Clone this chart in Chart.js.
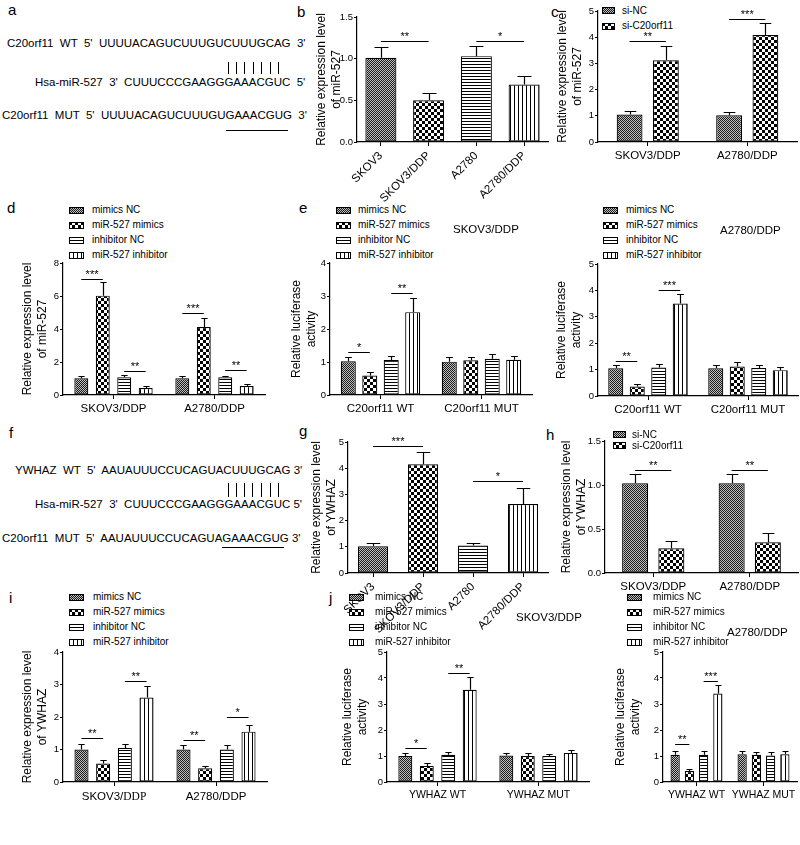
<!DOCTYPE html>
<html><head><meta charset="utf-8">
<script src="https://cdn.jsdelivr.net/npm/chart.js@4.4.0/dist/chart.umd.min.js"></script>
<style>
html,body{margin:0;padding:0;background:#fff;}
#root{position:relative;width:800px;height:845px;overflow:hidden;background:#fff;font-family:"Liberation Sans",Arial,Helvetica,sans-serif;color:#000;}
.t{position:absolute;white-space:pre;}
canvas{position:absolute;}
.ln{position:absolute;background:#000;}
</style></head><body><div id="root"></div>
<script>
// ---------------- DATA ----------------
const aSeqs = ["C20orf11  WT  5'  UUUUACAGUCUUUGUCUUUGCAG  3'", "Hsa-miR-527  3'  CUUUCCCGAAGGGAAACGUC  5'", "C20orf11  MUT  5'  UUUUACAGUCUUUGUGAAACGUG  3'"];
const fSeqs = ["YWHAZ  WT  5'  AAUAUUUCCUCAGUACUUUGCAG 3'", "Hsa-miR-527  3'  CUUUCCCGAAGGGAAACGUC 5'", "C20orf11  MUT  5'  AAUAUUUCCUCAGUAGAAACGUG 3'"];

const cellCats = ['SKOV3', 'SKOV3/DDP', 'A2780', 'A2780/DDP'];
const ddpCats = ['SKOV3/DDP', 'A2780/DDP'];
const c20Cats = ['C20orf11 WT', 'C20orf11 MUT'];
const ywCats = ['YWHAZ WT', 'YWHAZ MUT'];
const grpNames = ['mimics NC', 'miR-527 mimics', 'inhibitor NC', 'miR-527 inhibitor'];
const siNames = ['si-NC', 'si-C20orf11'];

// axis specs: [min, max, step, decimals]
const yB = [0, 1.5, 0.5, 1], yC = [0, 5, 1, 0], yD = [0, 8, 2, 0], yE1 = [0, 4, 1, 0], yE2 = [0, 5, 1, 0];
const yG = [0, 5, 1, 0], yH = [0, 1.5, 0.5, 1], yI = [0, 4, 1, 0], yJ1 = [0, 5, 1, 0], yJ2 = [0, 5, 1, 0];

// b
const bMean = [1.01, 0.50, 1.03, 0.69];
const bSD = [0.13, 0.09, 0.12, 0.10];
const bSig = [[0, 0, 0, 1, 1.21, '**'], [0, 2, 0, 3, 1.21, '*']];
// c
const cNC = [1.05, 1.02], cNCsd = [0.12, 0.14];
const cSi = [3.12, 4.08], cSisd = [0.56, 0.46];
const cSig = [[0, 0, 1, 0, 3.86, '**'], [0, 1, 1, 1, 4.71, '***']];
// d
const dMimNC = [1.01, 1.01], dMimNCsd = [0.14, 0.14];
const dMim = [6.02, 4.12], dMimsd = [0.80, 0.55];
const dInhNC = [1.07, 1.07], dInhNCsd = [0.13, 0.11];
const dInh = [0.42, 0.55], dInhsd = [0.13, 0.11];
const dSig = [[0, 0, 1, 0, 7.03, '***'], [2, 0, 3, 0, 1.45, '**'], [0, 1, 1, 1, 4.95, '***'], [2, 1, 3, 1, 1.52, '**']];
// e left (SKOV3/DDP)
const e1MimNC = [1.02, 1.01], e1MimNCsd = [0.14, 0.13];
const e1Mim = [0.59, 1.05], e1Mimsd = [0.12, 0.11];
const e1InhNC = [1.06, 1.10], e1InhNCsd = [0.13, 0.15];
const e1Inh = [2.51, 1.07], e1Inhsd = [0.44, 0.11];
const e1Sig = [[0, 0, 1, 0, 1.29, '*'], [2, 0, 3, 0, 3.08, '**']];
// e right (A2780/DDP)
const e2MimNC = [1.05, 1.05], e2MimNCsd = [0.11, 0.12];
const e2Mim = [0.36, 1.12], e2Mimsd = [0.10, 0.15];
const e2InhNC = [1.08, 1.06], e2InhNCsd = [0.12, 0.12];
const e2Inh = [3.50, 0.98], e2Inhsd = [0.38, 0.12];
const e2Sig = [[0, 0, 1, 0, 1.33, '**'], [2, 0, 3, 0, 4.03, '***']];
// g
const gMean = [1.02, 4.15, 1.05, 2.63];
const gSD = [0.12, 0.48, 0.11, 0.60];
const gSig = [[0, 0, 0, 1, 4.83, '***'], [0, 2, 0, 3, 3.5, '*']];
// h
const hNC = [1.02, 1.02], hNCsd = [0.10, 0.10];
const hSi = [0.28, 0.35], hSisd = [0.08, 0.10];
const hSig = [[0, 0, 1, 0, 1.17, '**'], [0, 1, 1, 1, 1.17, '**']];
// i
const iMimNC = [1.00, 1.00], iMimNCsd = [0.17, 0.13];
const iMim = [0.57, 0.42], iMimsd = [0.10, 0.08];
const iInhNC = [1.05, 1.00], iInhNCsd = [0.13, 0.13];
const iInh = [2.60, 1.55], iInhsd = [0.35, 0.20];
const iSig = [[0, 0, 1, 0, 1.35, '**'], [2, 0, 3, 0, 3.1, '**'], [0, 1, 1, 1, 1.3, '**'], [2, 1, 3, 1, 2.0, '*']];
// j left (SKOV3/DDP)
const j1MimNC = [1.00, 1.02], j1MimNCsd = [0.12, 0.10];
const j1Mim = [0.62, 1.00], j1Mimsd = [0.10, 0.12];
const j1InhNC = [1.05, 1.00], j1InhNCsd = [0.10, 0.08];
const j1Inh = [3.55, 1.12], j1Inhsd = [0.50, 0.10];
const j1Sig = [[0, 0, 1, 0, 1.3, '*'], [2, 0, 3, 0, 4.2, '**']];
// j right (A2780/DDP)
const j2MimNC = [1.05, 1.07], j2MimNCsd = [0.13, 0.11];
const j2Mim = [0.42, 1.05], j2Mimsd = [0.08, 0.10];
const j2InhNC = [1.05, 1.02], j2InhNCsd = [0.13, 0.13];
const j2Inh = [3.40, 1.07], j2Inhsd = [0.35, 0.13];
const j2Sig = [[0, 0, 1, 0, 1.45, '**'], [2, 0, 3, 0, 3.9, '***']];

const tMir = ['Relative expression level', 'of miR-527'];
const tYw = ['Relative expression level', 'of YWHAZ'];
const tLuc = ['Relative luciferase', 'activity'];

// ---------------- RENDER ----------------
const SANS = '"Liberation Sans", Arial, Helvetica, sans-serif';
const SERIF = '"Liberation Serif", "Times New Roman", serif';
Chart.defaults.font.family = SANS;
Chart.defaults.color = '#000';
const root = document.getElementById('root');

function txt(s, x, base, size, family) {
  const d = document.createElement('div');
  d.className = 't';
  d.textContent = s;
  d.style.left = x + 'px';
  d.style.top = (base - 0.8465 * size) + 'px';
  d.style.fontSize = size + 'px';
  d.style.lineHeight = size + 'px';
  if (family) d.style.fontFamily = family;
  root.appendChild(d);
  return d;
}
function line(x, y, w, h) {
  const d = document.createElement('div');
  d.className = 'ln';
  Object.assign(d.style, {left: x + 'px', top: y + 'px', width: w + 'px', height: h + 'px'});
  root.appendChild(d);
}
function charBox(div, idx) {
  const r = document.createRange();
  r.setStart(div.firstChild, idx);
  r.setEnd(div.firstChild, idx + 1);
  return r.getBoundingClientRect();
}

function pat(ctx, k) {
  const sizes = [[2, 2], [6, 6], [4, 3], [4, 4]];
  const [w, h] = sizes[k];
  const c = document.createElement('canvas');
  c.width = w; c.height = h;
  const t = c.getContext('2d');
  t.fillStyle = '#fff'; t.fillRect(0, 0, w, h);
  t.fillStyle = '#000';
  if (k === 0) {
    t.fillStyle = '#c0c0c0'; t.fillRect(0, 0, 2, 2);
    t.fillStyle = '#1a1a1a'; t.fillRect(0, 0, 1, 1); t.fillRect(1, 1, 1, 1);
  } else if (k === 1) {
    t.fillRect(0, 0, 3, 3); t.fillRect(3, 3, 3, 3);
  } else if (k === 2) {
    t.fillRect(0, 0, w, 1);
  } else {
    t.fillRect(0, 0, 1, h);
  }
  return ctx.createPattern(c, 'repeat');
}

const overlay = {
  id: 'overlay',
  afterDatasetsDraw(chart, args, opts) {
    const ctx = chart.ctx, ys = chart.scales.y, xs = chart.scales.x;
    ctx.save();
    ctx.strokeStyle = '#000'; ctx.fillStyle = '#000'; ctx.lineWidth = 1.2;
    chart.data.datasets.forEach((ds, di) => {
      const meta = chart.getDatasetMeta(di);
      meta.data.forEach((el, j) => {
        const v = ds.data[j], e = ds.sd[j];
        const x = Math.round(el.x) + 0.5;
        const y1 = ys.getPixelForValue(v);
        const y2 = Math.round(ys.getPixelForValue(v + e)) + 0.5;
        const w = Math.max(6, el.width * 0.45);
        ctx.beginPath();
        ctx.moveTo(x, y1); ctx.lineTo(x, y2);
        ctx.moveTo(x - w / 2, y2); ctx.lineTo(x + w / 2, y2);
        ctx.stroke();
      });
    });
    ctx.lineWidth = 1;
    ctx.font = '11px ' + SANS;
    ctx.textAlign = 'center'; ctx.textBaseline = 'alphabetic';
    (opts.sig || []).forEach(s => {
      const [da, ca, db, cb, y, t] = s;
      const xa = chart.getDatasetMeta(da).data[ca].x;
      const xb = chart.getDatasetMeta(db).data[cb].x;
      const py = Math.round(ys.getPixelForValue(y)) + 0.5;
      ctx.beginPath(); ctx.moveTo(xa, py); ctx.lineTo(xb, py); ctx.stroke();
      ctx.fillText(t, (xa + xb) / 2, py - 1.5);
    });
    if (opts.xParts) {
      ctx.textAlign = 'left';
      opts.xParts.forEach((parts, i) => {
        const cx = xs.getPixelForTick(i);
        let total = 0;
        const ws = parts.map(p => { ctx.font = '11.5px ' + p[1]; const w = ctx.measureText(p[0]).width; total += w; return w; });
        let x = cx - total / 2;
        parts.forEach((p, k) => { ctx.font = '11.5px ' + p[1]; ctx.fillText(p[0], x, xs.top + 18); x += ws[k]; });
      });
    }
    ctx.restore();
  }
};

function bars(g, cats, series, axis, ytitle, sig, o) {
  o = o || {};
  const padT = 10, padR = 2;
  const W = g.r - g.l + g.L + padR, H = g.b - g.t + padT + g.B;
  const cv = document.createElement('canvas');
  cv.width = W; cv.height = H;
  Object.assign(cv.style, {left: (g.l - g.L) + 'px', top: (g.t - padT) + 'px', width: W + 'px', height: H + 'px'});
  root.appendChild(cv);
  const ctx = cv.getContext('2d');
  const datasets = series.map(s => ({
    data: s[0], sd: s[1],
    backgroundColor: Array.isArray(s[2]) ? s[2].map(k => pat(ctx, k)) : pat(ctx, s[2]),
    borderColor: '#000', borderWidth: 1.2, borderSkipped: false,
    barPercentage: o.bp, categoryPercentage: o.cp
  }));
  const rot = o.rot || 0;
  new Chart(ctx, {
    type: 'bar',
    data: {labels: cats, datasets},
    options: {
      responsive: false, animation: false, devicePixelRatio: 1,
      layout: {padding: {top: padT, right: padR, left: 0, bottom: 0}},
      plugins: {legend: {display: false}, tooltip: {enabled: false}, overlay: {sig, xParts: o.xParts}},
      scales: {
        x: {
          offset: true,
          grid: {display: true, drawOnChartArea: false, drawTicks: true, tickLength: 4, offset: false, color: '#000', lineWidth: 1},
          border: {display: true, color: '#000', width: 1.2},
          ticks: {color: '#000', font: {size: o.xf || 11.5, family: SANS}, padding: 3, autoSkip: false, minRotation: rot, maxRotation: rot,
            callback: o.xParts ? () => '' : function (v) { return this.getLabelForValue(v); }},
          afterFit: s => { s.height = g.B; }
        },
        y: {
          min: axis[0], max: axis[1],
          ticks: {stepSize: axis[2], color: '#000', font: {size: 9.5, family: SANS}, padding: 1,
            callback: v => axis[3] ? Number(v).toFixed(axis[3]) : String(v)},
          grid: {display: true, drawOnChartArea: false, drawTicks: true, tickLength: 3, color: '#000', lineWidth: 1},
          border: {display: true, color: '#000', width: 1.2},
          title: {display: true, text: ytitle, color: '#000', font: {size: 12, family: SANS, lineHeight: 1.25}, padding: {top: 0, bottom: 0}},
          afterFit: s => { s.width = g.L; }
        }
      }
    },
    plugins: [overlay]
  });
}

function legend(x, yc0, dy, names, pats, sw, sh, tx) {
  names.forEach((n, i) => {
    const yc = yc0 + i * dy;
    const c = document.createElement('canvas');
    c.width = sw; c.height = sh;
    Object.assign(c.style, {left: x + 'px', top: Math.round(yc - sh / 2) + 'px', width: sw + 'px', height: sh + 'px'});
    root.appendChild(c);
    const cx = c.getContext('2d');
    cx.fillStyle = pat(cx, pats[i]); cx.fillRect(0, 0, sw, sh);
    cx.strokeStyle = '#000'; cx.lineWidth = 1; cx.strokeRect(0.5, 0.5, sw - 1, sh - 1);
    txt(n, tx, yc + 3.6, 10);
  });
}

function seqPanel(lines, xs, bases, barY, ulY) {
  const divs = lines.map((s, i) => txt(s, xs[i], bases[i], 11.5));
  const seq1 = lines[0].trim().split(/\s+/)[3];
  const st1 = lines[0].indexOf(seq1);
  for (let k = 8; k >= 2; k--) {
    const b = charBox(divs[0], st1 + seq1.length - k);
    line(Math.round((b.left + b.right) / 2), barY[0], 1, barY[1] - barY[0]);
  }
  const seq3 = lines[2].trim().split(/\s+/)[3];
  const st3 = lines[2].indexOf(seq3);
  const b1 = charBox(divs[2], st3 + seq3.length - 8);
  const b2 = charBox(divs[2], st3 + seq3.length - 1);
  line(Math.round(b1.left), ulY, Math.round(b2.right - 4 - b1.left), 1);
}

// panel letters
[['a', 8, 15], ['b', 297, 17], ['c', 551, 17], ['d', 7, 213], ['e', 299, 213], ['f', 9, 438], ['g', 299, 436], ['h', 546, 440], ['i', 9, 603], ['j', 329, 603]]
  .forEach(p => txt(p[0], p[1], p[2], 15));

// a & f
seqPanel(aSeqs, [7, 35, 2], [48, 87, 120], [62, 74], 130);
seqPanel(fSeqs, [15, 35, 2], [475, 509, 543], [483, 497], 547);

// b
bars({l: 357, t: 17, r: 548, b: 142, L: 43, B: 62}, cellCats, [[bMean, bSD, [0, 1, 2, 3]]], yB, tMir, bSig, {bp: 0.65, cp: 1, rot: 45});
// c
legend(602, 10.5, 15.5, siNames, [0, 1], 13, 7, 622);
bars({l: 598, t: 11, r: 797, b: 142, L: 43, B: 24}, ddpCats, [[cNC, cNCsd, 0], [cSi, cSisd, 1]], yC, tMir, cSig, {bp: 0.71, cp: 0.73});
// d
legend(69, 210.3, 15, grpNames, [0, 1, 2, 3], 15, 7, 92);
bars({l: 63, t: 263, r: 265, b: 395, L: 43, B: 24}, ddpCats,
  [[dMimNC, dMimNCsd, 0], [dMim, dMimsd, 1], [dInhNC, dInhNCsd, 2], [dInh, dInhsd, 3]], yD, tMir, dSig, {bp: 0.65, cp: 0.85});
// e left
legend(336, 210.3, 15, grpNames, [0, 1, 2, 3], 15, 7, 358);
txt('SKOV3/DDP', 453, 234, 11.5);
bars({l: 330, t: 263, r: 532, b: 395, L: 41, B: 24}, c20Cats,
  [[e1MimNC, e1MimNCsd, 0], [e1Mim, e1Mimsd, 1], [e1InhNC, e1InhNCsd, 2], [e1Inh, e1Inhsd, 3]], yE1, tLuc, e1Sig, {bp: 0.7, cp: 0.85});
// e right
legend(603, 210.3, 15, grpNames, [0, 1, 2, 3], 15, 7, 626);
txt('A2780/DDP', 720, 235, 11.5);
bars({l: 598, t: 264, r: 798, b: 396, L: 44, B: 24}, c20Cats,
  [[e2MimNC, e2MimNCsd, 0], [e2Mim, e2Mimsd, 1], [e2InhNC, e2InhNCsd, 2], [e2Inh, e2Inhsd, 3]], yE2, tLuc, e2Sig, {bp: 0.7, cp: 0.86});
// g
bars({l: 348, t: 442, r: 548, b: 573, L: 39, B: 62}, cellCats, [[gMean, gSD, [0, 1, 2, 3]]], yG, tYw, gSig, {bp: 0.6, cp: 1, rot: 45});
// h
legend(613, 434.5, 11, siNames, [0, 1], 13, 7, 632);
bars({l: 605, t: 441, r: 798, b: 573, L: 46, B: 24}, ddpCats, [[hNC, hNCsd, 0], [hSi, hSisd, 1]], yH, tYw, hSig, {bp: 0.72, cp: 0.75});
// i
legend(69, 597, 15, grpNames, [0, 1, 2, 3], 15, 7, 93);
bars({l: 63, t: 652, r: 267, b: 782, L: 43, B: 24}, ddpCats,
  [[iMimNC, iMimNCsd, 0], [iMim, iMimsd, 1], [iInhNC, iInhNCsd, 2], [iInh, iInhsd, 3]], yI, tYw, iSig,
  {bp: 0.65, cp: 0.85, xParts: [[['SKOV3/', SANS], ['DDP', SERIF]], [['A2780/DDP', SANS]]]});
// j left
legend(349, 597, 15, grpNames, [0, 1, 2, 3], 15, 7, 375);
txt('SKOV3/DDP', 516, 622, 11.5);
bars({l: 387, t: 652, r: 589, b: 782, L: 47, B: 24}, ywCats,
  [[j1MimNC, j1MimNCsd, 0], [j1Mim, j1Mimsd, 1], [j1InhNC, j1InhNCsd, 2], [j1Inh, j1Inhsd, 3]], yJ1, tLuc, j1Sig, {bp: 0.65, cp: 0.85, xf: 10.5});
// j right
legend(627, 597, 15, grpNames, [0, 1, 2, 3], 15, 7, 653);
txt('A2780/DDP', 727, 637, 11.5);
bars({l: 663, t: 652, r: 797, b: 782, L: 50, B: 24}, ywCats,
  [[j2MimNC, j2MimNCsd, 0], [j2Mim, j2Mimsd, 1], [j2InhNC, j2InhNCsd, 2], [j2Inh, j2Inhsd, 3]], yJ2, tLuc, j2Sig, {bp: 0.65, cp: 0.85, xf: 10.5});
</script></body></html>
